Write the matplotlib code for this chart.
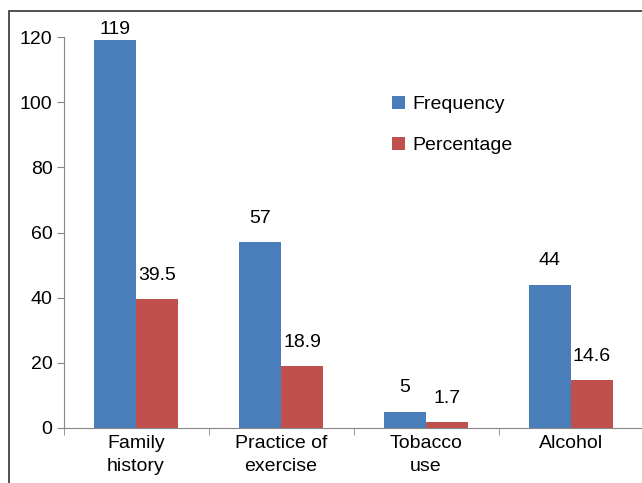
import matplotlib.pyplot as plt
import numpy as np
from matplotlib.patches import Rectangle

categories = ["Family\nhistory", "Practice of\nexercise", "Tobacco\nuse", "Alcohol"]
frequency = [119, 57, 5, 44]
percentage = [39.5, 18.9, 1.7, 14.6]
freq_labels = ["119", "57", "5", "44"]
pct_labels = ["39.5", "18.9", "1.7", "14.6"]

plt.rcParams['font.family'] = ['Liberation Sans', 'DejaVu Sans']

fig = plt.figure(figsize=(6.42, 4.83), dpi=100)
ax = fig.add_axes([63.5 / 642, 0.114, 580 / 642, 0.809])

x = np.arange(len(categories))
w = 0.29
blue = "#4a7ebb"
red = "#c0504d"
fs = 14
b1 = ax.bar(x - w / 2, frequency, w, color=blue, label="Frequency")
b2 = ax.bar(x + w / 2, percentage, w, color=red, label="Percentage")

# value labels above bars (tallest one sits closer, like the original)
for bars, labs in [(b1, freq_labels), (b2, pct_labels)]:
    for rect, lab in zip(bars, labs):
        h = rect.get_height()
        off = 2 if h > 110 else 11
        ax.annotate(lab, (rect.get_x() + rect.get_width() / 2, h),
                    xytext=(0, off), textcoords="offset points",
                    ha="center", va="bottom", fontsize=fs)

ax.set_xlim(-0.5, len(categories) - 0.5)
ax.set_ylim(0, 120)
ax.set_yticks(range(0, 121, 20))
ax.set_xticks(x)
ax.set_xticklabels(categories, fontsize=fs, linespacing=1.45)
ax.set_xticks(np.arange(-0.5, len(categories), 1), minor=True)
ax.tick_params(axis="x", which="major", length=0, pad=5)
ax.tick_params(axis="x", which="minor", length=5, color="#868686", direction="out")
ax.tick_params(axis="y", labelsize=fs, length=5, color="#868686", pad=3)

for s in ["top", "right"]:
    ax.spines[s].set_visible(False)
ax.spines["left"].set_color("#868686")
ax.spines["bottom"].set_color("#868686")

ax.legend(loc="upper left", bbox_to_anchor=(0.536, 0.895), frameon=False,
          fontsize=fs, handlelength=0.7, handleheight=0.7,
          handletextpad=0.35, labelspacing=1.2)

# partial frame around the figure
fig.add_artist(Rectangle((9 / 642, -0.1), 1.2, 1 - 11 / 483 + 0.1,
                         transform=fig.transFigure, fill=False,
                         edgecolor="#333333", linewidth=1.2))

fig.savefig("out.png", dpi=100)
